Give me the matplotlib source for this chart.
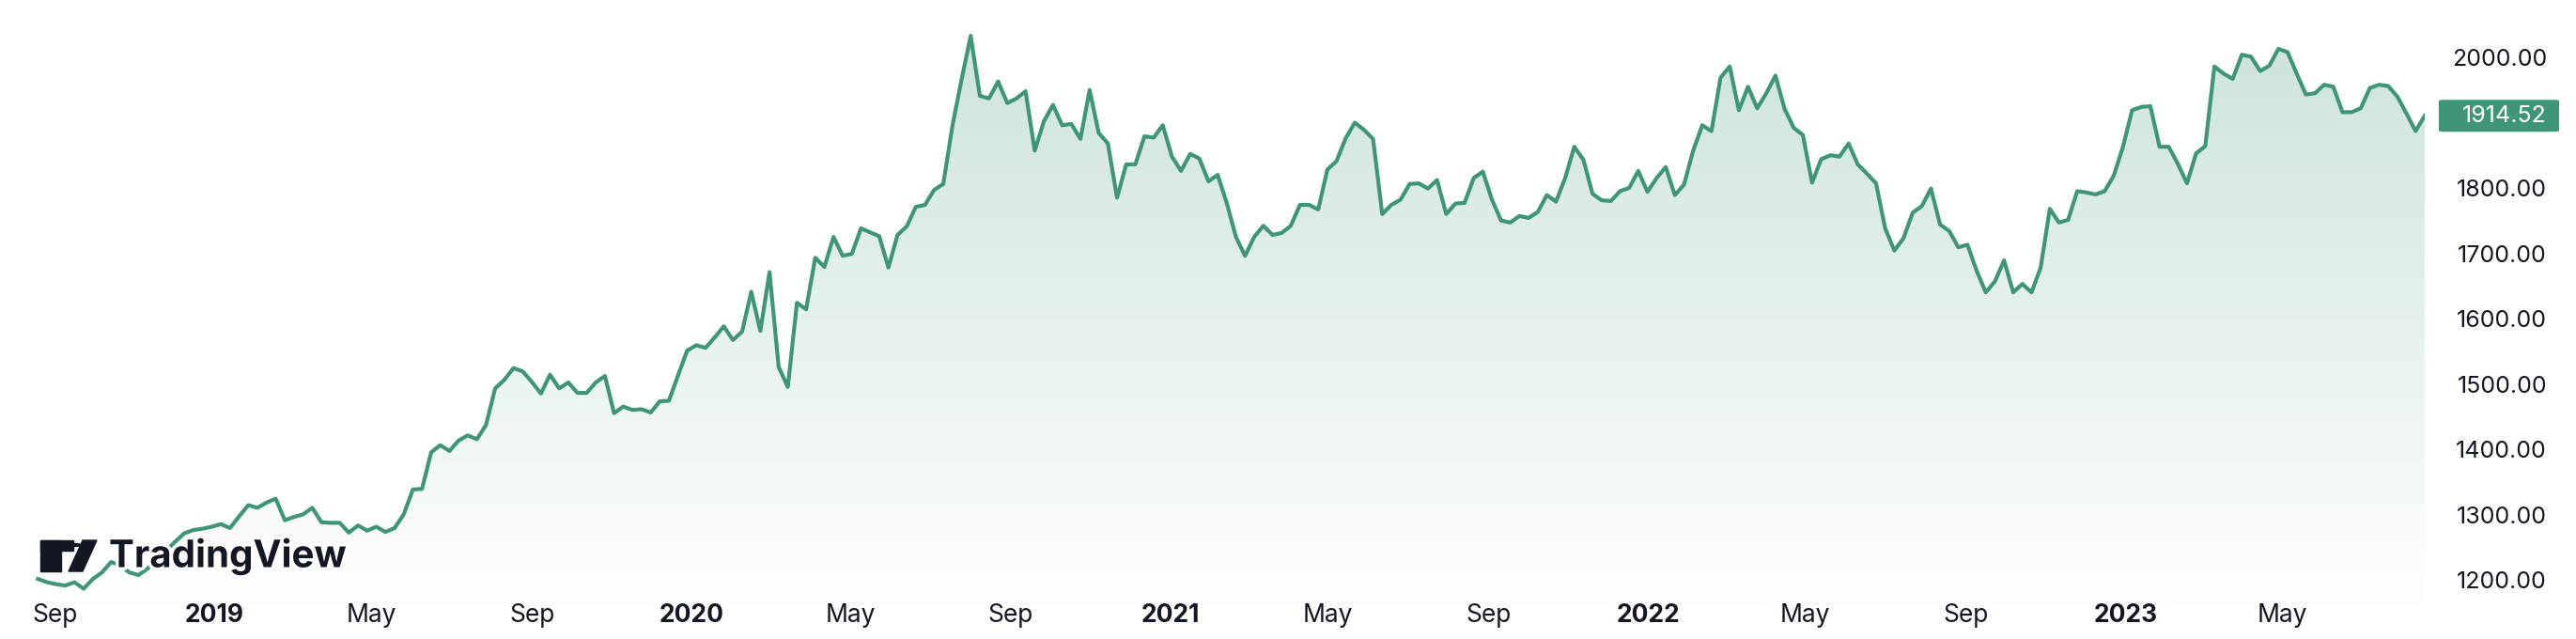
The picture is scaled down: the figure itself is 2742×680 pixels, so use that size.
import numpy as np
import pandas as pd
import matplotlib
matplotlib.use("Agg")
import matplotlib.pyplot as plt
import matplotlib.dates as mdates
from matplotlib.patches import Polygon, Rectangle, Circle, FancyBboxPatch
from matplotlib.colors import LinearSegmentedColormap
import matplotlib.patheffects as pe

start_date = "2018-08-19"
end_date = "2023-08-18"
prices = [
 1205,1200,1197,1195,1200,1190,1205,1215,1231,1226,1215,1211,1221,1236,1248,1262,1275,1280,
 1282,1285,1289,1283,1301,1318,1314,1322,1328,1295,1300,1304,1314,1292,1291,1291,1276,1287,1279,1285,1277,1283,
 1304,1342,1343,1399,1410,1401,1417,1425,1419,1441,1497,1510,1528,1523,1507,1489,1518,1497,1506,1490,
 1490,1506,1516,1459,1469,1464,1465,1460,1477,1478,1517,1555,1563,1559,1575,1592,1571,1584,1645,1585,
 1675,1530,1499,1628,1618,1697,1683,1729,1700,1703,1742,1736,1730,1682,1732,1745,1775,1778,1801,1810,
 1899,1970,2037,1945,1941,1967,1934,1941,1952,1861,1906,1931,1900,1902,1879,1954,1888,1872,1789,1840,
 1840,1883,1881,1900,1852,1830,1856,1849,1814,1824,1781,1729,1700,1729,1746,1732,1735,1746,1778,1778,
 1771,1832,1845,1880,1904,1893,1879,1764,1778,1786,1810,1811,1803,1816,1764,1780,1781,1819,1829,1786,
 1754,1751,1761,1758,1767,1793,1783,1819,1867,1847,1795,1785,1784,1799,1804,1830,1798,1819,1836,1793,
 1809,1861,1900,1891,1973,1990,1923,1959,1926,1949,1976,1925,1896,1885,1812,1848,1854,1852,1872,1840,
 1826,1811,1742,1708,1727,1766,1776,1803,1748,1738,1713,1717,1677,1644,1661,1693,1644,1657,1644,1682,
 1772,1751,1755,1799,1797,1794,1799,1823,1867,1923,1928,1929,1867,1867,1841,1811,1857,1868,1990,1979,
 1971,2008,2005,1983,1991,2017,2012,1979,1947,1949,1962,1959,1920,1920,1926,1957,1962,1960,1944,1918,
 1891,1914.52]
y_ticks = [1200, 1300, 1400, 1500, 1600, 1700, 1800, 1900, 2000]
x_tick_labels = ["Sep", "2019", "May", "Sep", "2020", "May", "Sep", "2021", "May", "Sep",
                 "2022", "May", "Sep", "2023", "May"]
x_tick_dates = ["2018-09-01", "2019-01-01", "2019-05-01", "2019-09-01", "2020-01-01", "2020-05-01",
                "2020-09-01", "2021-01-01", "2021-05-01", "2021-09-01", "2022-01-01", "2022-05-01",
                "2022-09-01", "2023-01-01", "2023-05-01"]
last_label = "1914.52"

dates = pd.date_range(start_date, end_date, periods=len(prices))
xd = mdates.date2num(dates)
yv = np.array(prices, dtype=float)

W, H = 2742, 680
fig = plt.figure(figsize=(W/100, H/100), dpi=100)
ax = fig.add_axes([0, 35/H, 2581/W, 645/H])
line_c = "#3f9677"
ymin = 1200 - 25.4/0.695
ymax = 2000 + 63.8/0.695
x0 = xd[0] - 29
ax.set_xlim(x0, xd[-1])
ax.set_ylim(ymin, ymax)

grad = np.linspace(0, 1, 256).reshape(-1, 1)
cmap = LinearSegmentedColormap.from_list("g", ["#ffffff", "#cde3dc"])
im = ax.imshow(grad, aspect="auto", cmap=cmap, origin="lower",
               extent=[x0, xd[-1], ymin, 2040], zorder=1)
poly = Polygon(np.column_stack([np.r_[xd[0], xd, xd[-1]], np.r_[ymin, yv, ymin]]),
               closed=True, transform=ax.transData, facecolor="none", edgecolor="none")
ax.add_patch(poly)
im.set_clip_path(poly)
ax.plot(xd, yv, color=line_c, lw=3.0, zorder=3, solid_joinstyle="round")

for s in ax.spines.values():
    s.set_visible(False)
ax.set_xticks([]); ax.set_yticks([])

txt_c = "#131722"
def ypix(v):
    return (H - (63.8 + (2000 - v)*0.695))/H
for t in y_ticks:
    fig.text(2711/W, ypix(t), f"{t:.2f}", ha="right", va="center",
             fontsize=18, color=txt_c, family="Inter")
# last price badge
yl = ypix(prices[-1])
fig.patches.append(FancyBboxPatch((2596/W, yl - 17/H), 128/W, 34/H, boxstyle="round,pad=0,rounding_size=0.002",
                                  transform=fig.transFigure, fc=line_c, ec="none", zorder=5))
fig.text(2711/W, yl, last_label, ha="right", va="center", fontsize=18, color="white", family="Inter", zorder=6)

for lab, d in zip(x_tick_labels, x_tick_dates):
    xv = mdates.date2num(pd.Timestamp(d))
    xf = (2581/W) * (xv - x0) / (xd[-1] - x0)
    bold = lab.isdigit()
    fig.text(xf, 12/H, lab, ha="center", va="bottom", fontsize=19, color=txt_c, family="Inter",
             fontweight="bold" if bold else "normal")

# TradingView logo
k = "#131722"
fig.patches.append(Rectangle((43/W, (H-608)/H), 22/W, 33/H, transform=fig.transFigure, color=k))
fig.patches.append(Rectangle((43/W, (H-586)/H), 35/W, 11/H, transform=fig.transFigure, color=k))
fig.patches.append(Circle((80/W, (H-580)/H), 6/W, transform=fig.transFigure, color=k))
fig.patches.append(Polygon([[88/W, (H-575)/H], [103/W, (H-575)/H], [88/W, (H-608)/H], [73/W, (H-608)/H]],
                           closed=True, transform=fig.transFigure, color=k))
fig.text(116/W, (H-592)/H, "TradingView", ha="left", va="center", fontsize=29, fontweight="bold",
         color=k, family="Inter",
         path_effects=[pe.withStroke(linewidth=5, foreground="white")])

fig.savefig("out.png", dpi=100, facecolor="white")
